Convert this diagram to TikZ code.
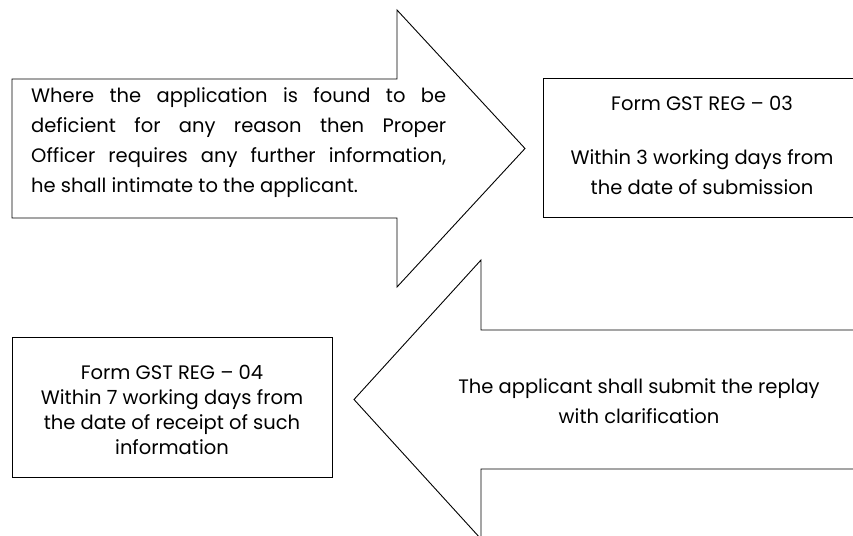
\documentclass[tikz,border=0pt]{standalone}
\usepackage{fontspec}
\setmainfont{Poppins}
\begin{document}
\begin{tikzpicture}[x=1pt,y=-1pt,
  shapeline/.style={draw=black, line width=0.9pt, fill=white, line join=miter},
  txt/.style={font=\fontsize{19.5}{30}\selectfont, text=black, inner sep=0pt}]
\useasboundingbox (0,0) rectangle (853,535);
% arrow 1 (right)
\draw[shapeline] (12,79) -- (397,79) -- (397,10) -- (525,148.5) -- (397,287) -- (397,218) -- (12,218) -- cycle;
% box 1
\draw[shapeline] (543,78) rectangle (870,217);
% arrow 2 (left)
\draw[shapeline] (870,330) -- (481,330) -- (481,260) -- (354,399.5) -- (481,539) -- (481,469) -- (870,469);
% box 2
\draw[shapeline] (12,337) rectangle (332,477);

\node[txt, align=left, anchor=west] (t1) at (31,143)
 {\makebox[415pt][s]{Where the application is found to be}\\
  \makebox[415pt][s]{deficient for any reason then Proper}\\
  \makebox[415pt][s]{Officer requires any further information,}\\
  he shall intimate to the applicant.};

\node[txt, align=center] (t2a) at (702,103) {Form GST REG -- 03};
\node[txt, align=center] (t2b) at (702,172) {Within 3 working days from\\the date of submission};

\node[txt, align=center, font=\fontsize{19.5}{25}\selectfont] (t3) at (172,410) {Form GST REG -- 04\\Within 7 working days from\\the date of receipt of such\\information};

\node[txt, align=center] (t4) at (639,401) {The applicant shall submit the replay\\with clarification};
\end{tikzpicture}
\end{document}
